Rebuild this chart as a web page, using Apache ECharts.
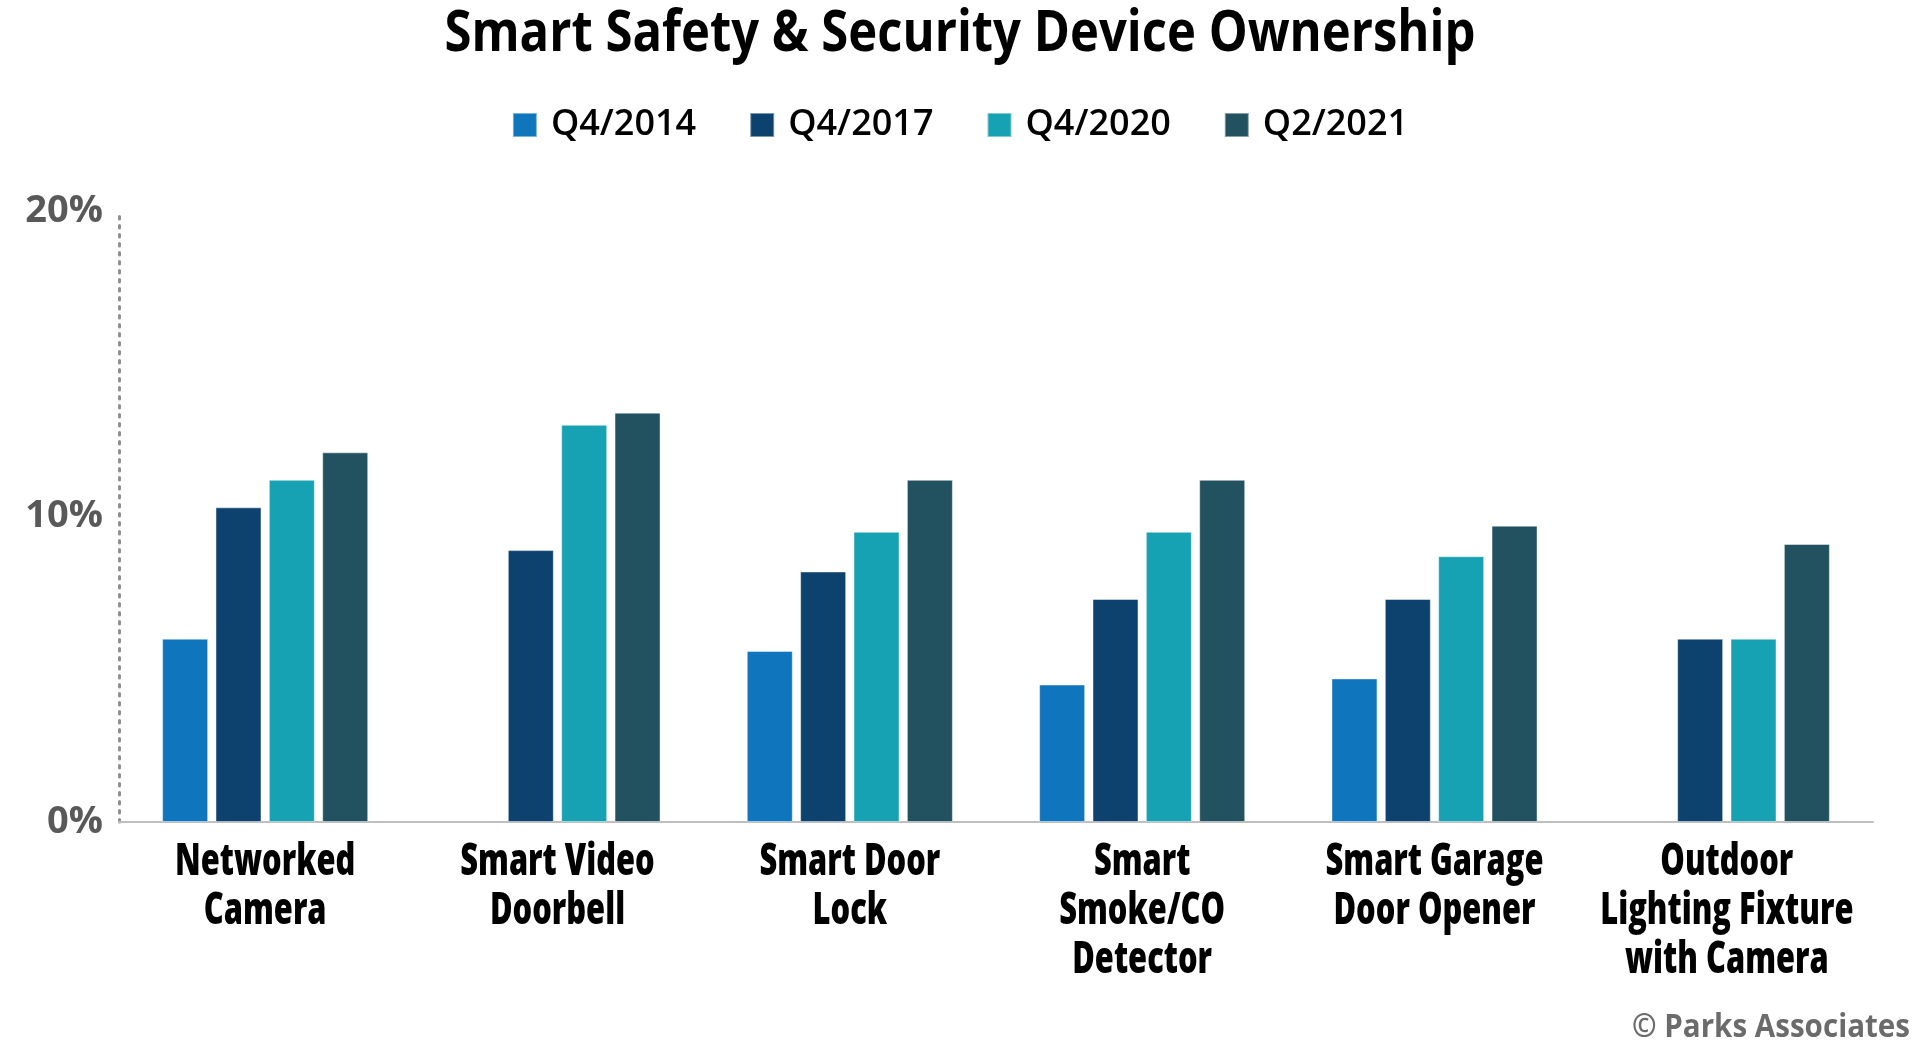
<!DOCTYPE html>
<html>
<head>
<meta charset="utf-8">
<script src="https://cdn.jsdelivr.net/npm/echarts@6/dist/echarts.min.js"></script>
<style>
html,body{margin:0;padding:0;background:#fff;}
#chart{width:1920px;height:1048px;}
</style>
</head>
<body>
<div id="chart"></div>
<script>
const categories = ["Networked\nCamera", "Smart Video\nDoorbell", "Smart Door\nLock", "Smart\nSmoke/CO\nDetector", "Smart Garage\nDoor Opener", "Outdoor\nLighting Fixture\nwith Camera"];
const seriesNames = ["Q4/2014", "Q4/2017", "Q4/2020", "Q2/2021"];
const q4_2014 = [6.0, null, 5.6, 4.5, 4.7, null];
const q4_2017 = [10.3, 8.9, 8.2, 7.3, 7.3, 6.0];
const q4_2020 = [11.2, 13.0, 9.5, 9.5, 8.7, 6.0];
const q2_2021 = [12.1, 13.4, 11.2, 11.2, 9.7, 9.1];
const yTicks = [0, 10, 20];
const titleText = 'Smart Safety & Security Device Ownership';
const creditText = '© Parks Associates';
const colors = ["#0F75BC", "#0D426E", "#16A2B3", "#22525F"];

const FONT = "'Open Sans', sans-serif";
const dataSets = [q4_2014, q4_2017, q4_2020, q2_2021];

const mctx = document.createElement('canvas').getContext('2d');
function measure(text, weight, size) {
  mctx.font = weight + ' ' + size + 'px "Open Sans"';
  return mctx.measureText(text).width;
}

const chart = echarts.init(document.getElementById('chart'));
chart.setOption({
  backgroundColor: '#ffffff',
  animation: false,
  legend: {
    data: seriesNames,
    top: 102,
    left: 'center',
    icon: 'rect',
    itemWidth: 24,
    itemHeight: 24,
    itemGap: 53,
    textStyle: { fontFamily: FONT, fontWeight: 600, fontSize: 36, color: '#000', padding: [0, 0, 0, 9] }
  },
  grid: { left: 119, right: 47, top: 211, bottom: 226, containLabel: false },
  xAxis: {
    type: 'category',
    data: categories,
    axisLine: { show: true, lineStyle: { color: '#bfbfbf', width: 2 } },
    axisTick: { show: false },
    axisLabel: { show: false }
  },
  yAxis: {
    type: 'value',
    min: yTicks[0],
    max: yTicks[yTicks.length - 1],
    interval: 10,
    splitLine: { show: false },
    axisTick: { show: false },
    axisLine: { show: true, lineStyle: { color: '#8f8f8f', width: 3, type: [2.5, 6.5] } },
    axisLabel: {
      formatter: '{value}%',
      margin: 16,
      fontFamily: FONT,
      fontWeight: 'bold',
      fontSize: 38,
      color: '#595959'
    }
  },
  series: seriesNames.map((name, i) => ({
    name: name,
    type: 'bar',
    data: dataSets[i],
    barWidth: 46,
    barGap: '16%',
    itemStyle: { color: colors[i], borderColor: 'rgba(255,255,255,0.45)', borderWidth: 1 }
  }))
});

// Text drawn as graphic elements so a condensed width can be applied
const titleSize = 58;
const titleScale = 1031 / measure(titleText, 'bold', titleSize);
const labelSize = 45;
const labelWeight = 800;
const kA = 177 / measure('Networked', labelWeight, labelSize);
const kB = 258 / measure('Lighting Fixture', labelWeight, labelSize);
const labelScale = (kA + kB) / 2;
const creditSize = 33;
const creditScale = 278 / measure(creditText, 'bold', creditSize);

const baseY = chart.convertToPixel({ yAxisIndex: 0 }, 0);
const graphics = [];
graphics.push({
  type: 'text', x: 960, y: 34, scaleX: titleScale, silent: true,
  style: { text: titleText, x: 0, y: 0, textAlign: 'center', textVerticalAlign: 'middle', align: 'center', verticalAlign: 'middle',
           fontFamily: FONT, fontWeight: 'bold', fontSize: titleSize, fill: '#000' }
});
categories.forEach((c, i) => {
  const px = chart.convertToPixel({ xAxisIndex: 0 }, i);
  graphics.push({
    type: 'text', x: px, y: baseY + 16, scaleX: labelScale, silent: true,
    style: { text: c, x: 0, y: 0, textAlign: 'center', textVerticalAlign: 'top', align: 'center', verticalAlign: 'top',
             fontFamily: FONT, fontWeight: labelWeight, fontSize: labelSize, lineHeight: 49, fill: '#000' }
  });
});
graphics.push({
  type: 'text', x: 1910, y: 1028, scaleX: creditScale, silent: true,
  style: { text: creditText, x: 0, y: 0, textAlign: 'right', textVerticalAlign: 'middle', align: 'right', verticalAlign: 'middle',
           fontFamily: FONT, fontWeight: 'bold', fontSize: creditSize, fill: '#6b6b6b' }
});
chart.setOption({ graphic: graphics });
</script>
</body>
</html>
